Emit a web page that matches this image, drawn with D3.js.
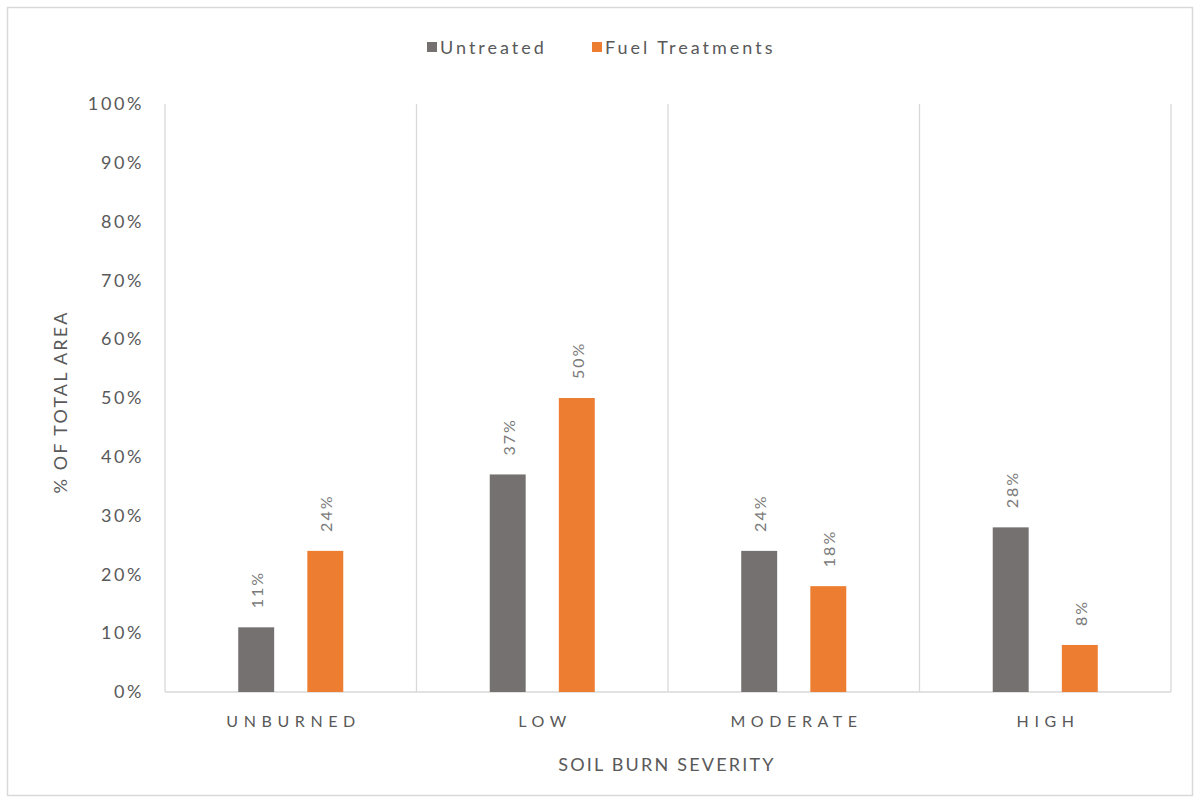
<!DOCTYPE html>
<html>
<head>
<meta charset="utf-8">
<script src="https://cdn.jsdelivr.net/npm/d3@7/dist/d3.min.js"></script>
<style>
  html, body { margin: 0; padding: 0; background: #fff; }
  svg { display: block; font-family: Lato, "Open Sans", sans-serif; }
</style>
</head>
<body>
<svg id="chart" width="1201" height="811"></svg>
<script>
// Soil burn severity share of total area, untreated vs fuel-treated
const categories = ["UNBURNED", "LOW", "MODERATE", "HIGH"];
const seriesNames = ["Untreated", "Fuel Treatments"];
const untreated = [11, 37, 24, 28];
const fuelTreatments = [24, 50, 18, 8];
const yTicks = [0, 10, 20, 30, 40, 50, 60, 70, 80, 90, 100];

const colors = { "Untreated": "#767171", "Fuel Treatments": "#ED7D31" };
const series = [
  { name: seriesNames[0], values: untreated },
  { name: seriesNames[1], values: fuelTreatments }
];

const svg = d3.select("#chart");
const plot = { left: 165, right: 1171, top: 104, bottom: 692 };
const textGray = "#595959";

// outer frame
svg.append("rect")
  .attr("x", 7.5).attr("y", 7.5)
  .attr("width", 1185).attr("height", 788)
  .attr("fill", "#fff").attr("stroke", "#d9d9d9").attr("stroke-width", 1.5);

const x = d3.scaleBand().domain(categories).range([plot.left, plot.right]).paddingInner(0).paddingOuter(0);
const xSeries = d3.scaleBand().domain(seriesNames).range([0, x.bandwidth()]).paddingInner(0.48).paddingOuter(1.06);
const y = d3.scaleLinear().domain([0, 100]).range([plot.bottom, plot.top]);

// category separators
const seps = categories.map(c => x(c)).concat([plot.right]);
svg.append("g").selectAll("line").data(seps).join("line")
  .attr("x1", d => d).attr("x2", d => d)
  .attr("y1", plot.top).attr("y2", plot.bottom)
  .attr("stroke", "#d9d9d9").attr("stroke-width", 1.3);

// baseline axis
svg.append("line")
  .attr("x1", plot.left).attr("x2", plot.right)
  .attr("y1", plot.bottom).attr("y2", plot.bottom)
  .attr("stroke", "#d9d9d9").attr("stroke-width", 1.3);

// y axis labels
const yAxis = d3.axisLeft(y).tickValues(yTicks).tickFormat(d => d + "%").tickSize(0).tickPadding(21);
const gy = svg.append("g").attr("transform", `translate(${plot.left},0)`).call(yAxis);
gy.select(".domain").remove();
gy.selectAll("text").attr("fill", textGray).attr("font-size", 18)
  .attr("letter-spacing", "2.6px").attr("font-family", "Lato, sans-serif");

// x axis category labels
const xAxis = d3.axisBottom(x).tickSize(0).tickPadding(24);
const gx = svg.append("g").attr("transform", `translate(0,${plot.bottom})`).call(xAxis);
gx.select(".domain").remove();
gx.selectAll("text").attr("fill", textGray).attr("font-size", 16)
  .attr("letter-spacing", "5.6px").attr("dx", "2.8px").attr("font-family", "Lato, sans-serif");

// bars
const groups = svg.append("g").selectAll("g").data(series).join("g")
  .attr("fill", d => colors[d.name]);
groups.selectAll("rect")
  .data(s => s.values.map((v, i) => ({ name: s.name, cat: categories[i], v })))
  .join("rect")
  .attr("x", d => x(d.cat) + xSeries(d.name))
  .attr("width", xSeries.bandwidth())
  .attr("y", d => y(d.v))
  .attr("height", d => y(0) - y(d.v));

// rotated value labels
groups.selectAll("text")
  .data(s => s.values.map((v, i) => ({ name: s.name, cat: categories[i], v })))
  .join("text")
  .attr("transform", d => `translate(${x(d.cat) + xSeries(d.name) + xSeries.bandwidth() / 2 + 7},${y(d.v) - 19}) rotate(-90)`)
  .attr("text-anchor", "start")
  .attr("fill", "#7a7a7a")
  .attr("font-size", 16)
  .attr("letter-spacing", "2px")
  .text(d => d.v + "%");

// axis titles
svg.append("text")
  .attr("x", 667).attr("y", 771)
  .attr("text-anchor", "middle").attr("fill", textGray).attr("font-size", 18)
  .attr("letter-spacing", "2.2px")
  .text("SOIL BURN SEVERITY");

svg.append("text")
  .attr("transform", `translate(67,402) rotate(-90)`)
  .attr("text-anchor", "middle").attr("fill", textGray).attr("font-size", 18)
  .attr("letter-spacing", "2.1px")
  .text("% OF TOTAL AREA");

// legend
const legendItems = [
  { name: seriesNames[0], x: 427 },
  { name: seriesNames[1], x: 592 }
];
const lg = svg.append("g").selectAll("g").data(legendItems).join("g")
  .attr("transform", d => `translate(${d.x},0)`);
lg.append("rect").attr("x", 0).attr("y", 42).attr("width", 10).attr("height", 10)
  .attr("fill", d => colors[d.name]);
lg.append("text").attr("x", 13).attr("y", 54)
  .attr("fill", textGray).attr("font-size", 18).attr("letter-spacing", "3px")
  .text(d => d.name);
</script>
</body>
</html>
